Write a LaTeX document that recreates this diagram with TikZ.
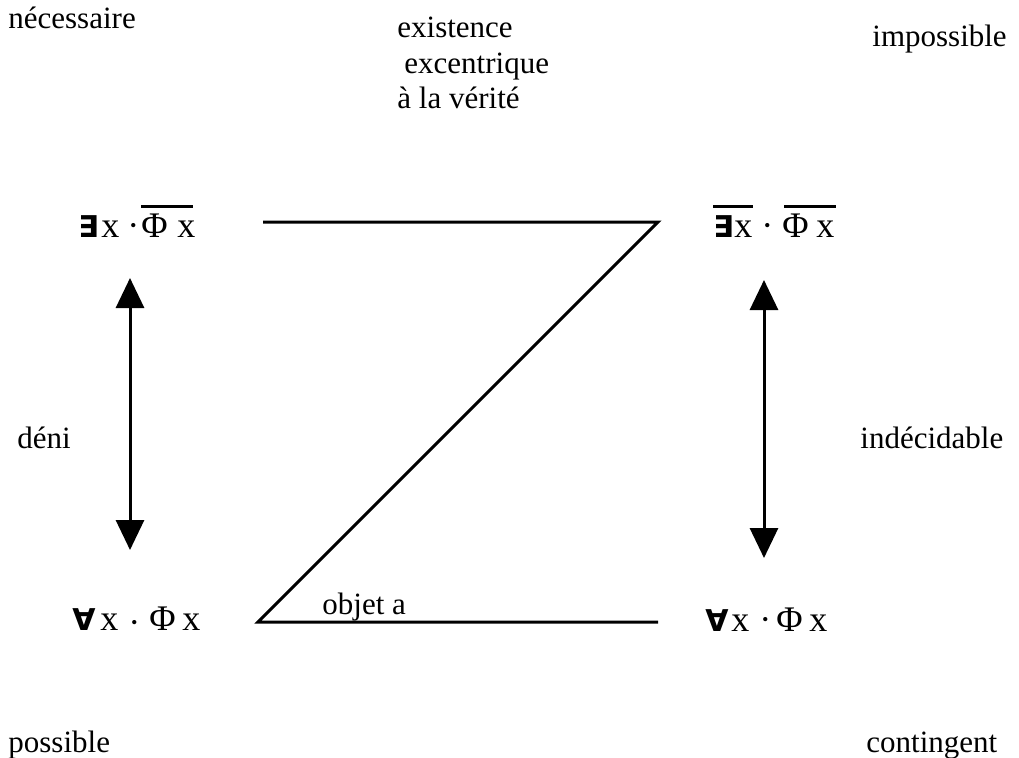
\documentclass[tikz,border=0pt]{standalone}
\usepackage{fontspec}
\setmainfont{Liberation Serif}
\newfontfamily\symf{DejaVu Sans}
\usetikzlibrary{arrows.meta}
% place #2 with its left edge #1 px right of the node origin (1px = 0.5pt)
\newcommand\putg[2]{\rlap{\hspace{\dimexpr #1pt/2\relax}#2}}
% overline from #1 px to #2 px, 29px above baseline
\newcommand\ovr[2]{\putg{#1}{\rule[14.5pt]{\dimexpr (#2pt-#1pt)/2\relax}{1.5pt}}}
\newcommand\qsym[1]{{\symf\bfseries\fontsize{15}{18}\selectfont #1}}
\begin{document}
\begin{tikzpicture}[x=0.5pt,y=-0.5pt,
  lbl/.style={anchor=base west,inner sep=0pt,font=\fontsize{15.5}{18}\selectfont},
  frm/.style={anchor=base west,inner sep=0pt,font=\fontsize{18}{20}\selectfont},
  edge/.style={line width=1.5pt},
  dbl/.style={line width=1.5pt,{Triangle[length=15pt,width=14pt]}-{Triangle[length=15pt,width=14pt]}}]
\useasboundingbox (0,0) rectangle (1019,757);
% corner labels
\node[lbl] (nec) at (8,28) {nécessaire};
\node[lbl] (imp) at (872,46) {impossible};
\node[lbl] (pos) at (8,752) {possible};
\node[lbl] (con) at (866,752) {contingent};
\node[lbl] (deni) at (17,448) {déni};
\node[lbl] (ind) at (860,448) {indécidable};
\node[lbl] (ex1) at (397,37) {existence};
\node[lbl] (ex2) at (404,73) {excentrique};
\node[lbl] (ex3) at (397,108) {à la vérité};
\node[lbl] (obj) at (322,614) {objet a};
% formulas
\node[frm] (tl) at (0,237) {\putg{77}{\qsym{∃}}\putg{100}{x}\putg{126}{·}\putg{140}{Φ}\putg{176}{x}\ovr{140}{192}};
\node[frm] (tr) at (0,237) {\putg{712}{\qsym{∃}}\putg{733}{x}\putg{760}{·}\putg{781}{Φ}\putg{815}{x}\ovr{712}{752}\ovr{783}{835}};
\node[frm] (bl) at (0,630) {\putg{71}{\qsym{∀}}\putg{99}{x}\putg{127}{\raisebox{-2pt}{·}}\putg{148}{Φ}\putg{181}{x}};
\node[frm] (br) at (0,631) {\putg{704}{\qsym{∀}}\putg{730}{x}\putg{758}{·}\putg{775}{Φ}\putg{808}{x}};
% Z
\coordinate (a) at (263,222);
\coordinate (b) at (658,222);
\coordinate (c) at (258,622);
\coordinate (d) at (658,622);
\draw[edge] (a) -- (b) -- (c) -- (d);
% arrows
\coordinate (l1) at (130,278);
\coordinate (l2) at (130,550);
\coordinate (r1) at (764,280);
\coordinate (r2) at (764,558);
\draw[dbl] (l1) -- (l2);
\draw[dbl] (r1) -- (r2);
\end{tikzpicture}
\end{document}
